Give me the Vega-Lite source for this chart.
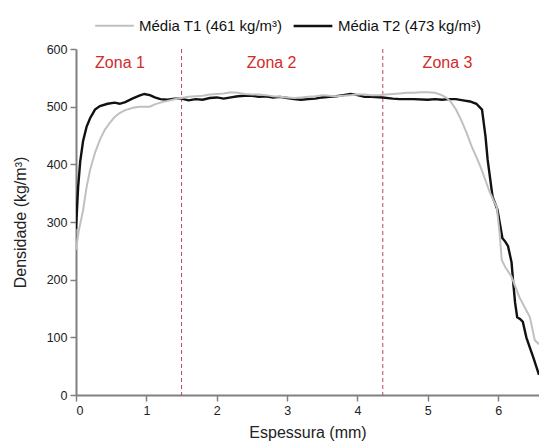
{
  "$schema": "https://vega.github.io/schema/vega-lite/v6.json",
  "autosize": {"type": "none"},
  "width": 463,
  "height": 346,
  "padding": {"left": 76, "top": 49, "right": 0, "bottom": 51},
  "background": "white",
  "config": {
    "view": {"stroke": null},
    "font": "Liberation Sans",
    "axis": {
      "grid": false,
      "domainColor": "#808080",
      "domainWidth": 2,
      "tickColor": "#808080",
      "tickWidth": 1.5,
      "tickSize": 6,
      "labelColor": "#222222",
      "labelFontSize": 12.5,
      "labelFont": "Liberation Sans",
      "titleFont": "Liberation Sans",
      "titleFontSize": 16,
      "titleFontWeight": "normal",
      "titleColor": "#222222"
    }
  },
  "datasets": {
    "curves": [
      {"s": "Média T2 (473 kg/m³)", "x": 0, "y": 288},
      {"s": "Média T2 (473 kg/m³)", "x": 0.03, "y": 360},
      {"s": "Média T2 (473 kg/m³)", "x": 0.06, "y": 405},
      {"s": "Média T2 (473 kg/m³)", "x": 0.1, "y": 440},
      {"s": "Média T2 (473 kg/m³)", "x": 0.15, "y": 465},
      {"s": "Média T2 (473 kg/m³)", "x": 0.2, "y": 480},
      {"s": "Média T2 (473 kg/m³)", "x": 0.27, "y": 495},
      {"s": "Média T2 (473 kg/m³)", "x": 0.34, "y": 501},
      {"s": "Média T2 (473 kg/m³)", "x": 0.45, "y": 505},
      {"s": "Média T2 (473 kg/m³)", "x": 0.55, "y": 507},
      {"s": "Média T2 (473 kg/m³)", "x": 0.62, "y": 505},
      {"s": "Média T2 (473 kg/m³)", "x": 0.7, "y": 508},
      {"s": "Média T2 (473 kg/m³)", "x": 0.8, "y": 514},
      {"s": "Média T2 (473 kg/m³)", "x": 0.9, "y": 519},
      {"s": "Média T2 (473 kg/m³)", "x": 0.97, "y": 522},
      {"s": "Média T2 (473 kg/m³)", "x": 1.05, "y": 520},
      {"s": "Média T2 (473 kg/m³)", "x": 1.12, "y": 516},
      {"s": "Média T2 (473 kg/m³)", "x": 1.2, "y": 513},
      {"s": "Média T2 (473 kg/m³)", "x": 1.3, "y": 512},
      {"s": "Média T2 (473 kg/m³)", "x": 1.4, "y": 514},
      {"s": "Média T2 (473 kg/m³)", "x": 1.5, "y": 514},
      {"s": "Média T2 (473 kg/m³)", "x": 1.6, "y": 511},
      {"s": "Média T2 (473 kg/m³)", "x": 1.7, "y": 513},
      {"s": "Média T2 (473 kg/m³)", "x": 1.8, "y": 512},
      {"s": "Média T2 (473 kg/m³)", "x": 1.9, "y": 515},
      {"s": "Média T2 (473 kg/m³)", "x": 2.0, "y": 516},
      {"s": "Média T2 (473 kg/m³)", "x": 2.1, "y": 514},
      {"s": "Média T2 (473 kg/m³)", "x": 2.2, "y": 516},
      {"s": "Média T2 (473 kg/m³)", "x": 2.3, "y": 518},
      {"s": "Média T2 (473 kg/m³)", "x": 2.4, "y": 519},
      {"s": "Média T2 (473 kg/m³)", "x": 2.5, "y": 519},
      {"s": "Média T2 (473 kg/m³)", "x": 2.6, "y": 517},
      {"s": "Média T2 (473 kg/m³)", "x": 2.7, "y": 518},
      {"s": "Média T2 (473 kg/m³)", "x": 2.8, "y": 516},
      {"s": "Média T2 (473 kg/m³)", "x": 2.9, "y": 517},
      {"s": "Média T2 (473 kg/m³)", "x": 3.0, "y": 515},
      {"s": "Média T2 (473 kg/m³)", "x": 3.1, "y": 513},
      {"s": "Média T2 (473 kg/m³)", "x": 3.2, "y": 512},
      {"s": "Média T2 (473 kg/m³)", "x": 3.3, "y": 513},
      {"s": "Média T2 (473 kg/m³)", "x": 3.4, "y": 514},
      {"s": "Média T2 (473 kg/m³)", "x": 3.5, "y": 516},
      {"s": "Média T2 (473 kg/m³)", "x": 3.6, "y": 517},
      {"s": "Média T2 (473 kg/m³)", "x": 3.7, "y": 518},
      {"s": "Média T2 (473 kg/m³)", "x": 3.8, "y": 520},
      {"s": "Média T2 (473 kg/m³)", "x": 3.9, "y": 522},
      {"s": "Média T2 (473 kg/m³)", "x": 4.0, "y": 520},
      {"s": "Média T2 (473 kg/m³)", "x": 4.1, "y": 517},
      {"s": "Média T2 (473 kg/m³)", "x": 4.2, "y": 517},
      {"s": "Média T2 (473 kg/m³)", "x": 4.36, "y": 516},
      {"s": "Média T2 (473 kg/m³)", "x": 4.5, "y": 514},
      {"s": "Média T2 (473 kg/m³)", "x": 4.6, "y": 513},
      {"s": "Média T2 (473 kg/m³)", "x": 4.8, "y": 513},
      {"s": "Média T2 (473 kg/m³)", "x": 5.0, "y": 512},
      {"s": "Média T2 (473 kg/m³)", "x": 5.1, "y": 513},
      {"s": "Média T2 (473 kg/m³)", "x": 5.2, "y": 512},
      {"s": "Média T2 (473 kg/m³)", "x": 5.3, "y": 513},
      {"s": "Média T2 (473 kg/m³)", "x": 5.4, "y": 513},
      {"s": "Média T2 (473 kg/m³)", "x": 5.5, "y": 511},
      {"s": "Média T2 (473 kg/m³)", "x": 5.6, "y": 509},
      {"s": "Média T2 (473 kg/m³)", "x": 5.69, "y": 505},
      {"s": "Média T2 (473 kg/m³)", "x": 5.77, "y": 495},
      {"s": "Média T2 (473 kg/m³)", "x": 5.82, "y": 448},
      {"s": "Média T2 (473 kg/m³)", "x": 5.85, "y": 408},
      {"s": "Média T2 (473 kg/m³)", "x": 5.92, "y": 344},
      {"s": "Média T2 (473 kg/m³)", "x": 5.99, "y": 321},
      {"s": "Média T2 (473 kg/m³)", "x": 6.06, "y": 272},
      {"s": "Média T2 (473 kg/m³)", "x": 6.1, "y": 266},
      {"s": "Média T2 (473 kg/m³)", "x": 6.14, "y": 258},
      {"s": "Média T2 (473 kg/m³)", "x": 6.19, "y": 230},
      {"s": "Média T2 (473 kg/m³)", "x": 6.21, "y": 200},
      {"s": "Média T2 (473 kg/m³)", "x": 6.24, "y": 160},
      {"s": "Média T2 (473 kg/m³)", "x": 6.27, "y": 135},
      {"s": "Média T2 (473 kg/m³)", "x": 6.31, "y": 132},
      {"s": "Média T2 (473 kg/m³)", "x": 6.35, "y": 127},
      {"s": "Média T2 (473 kg/m³)", "x": 6.4, "y": 100},
      {"s": "Média T2 (473 kg/m³)", "x": 6.45, "y": 82},
      {"s": "Média T2 (473 kg/m³)", "x": 6.5, "y": 65},
      {"s": "Média T2 (473 kg/m³)", "x": 6.58, "y": 35},
      {"s": "Média T1 (461 kg/m³)", "x": 0, "y": 252},
      {"s": "Média T1 (461 kg/m³)", "x": 0.04, "y": 285},
      {"s": "Média T1 (461 kg/m³)", "x": 0.1, "y": 320},
      {"s": "Média T1 (461 kg/m³)", "x": 0.15, "y": 360},
      {"s": "Média T1 (461 kg/m³)", "x": 0.2, "y": 390},
      {"s": "Média T1 (461 kg/m³)", "x": 0.27, "y": 420},
      {"s": "Média T1 (461 kg/m³)", "x": 0.34, "y": 443},
      {"s": "Média T1 (461 kg/m³)", "x": 0.41, "y": 460},
      {"s": "Média T1 (461 kg/m³)", "x": 0.48, "y": 472},
      {"s": "Média T1 (461 kg/m³)", "x": 0.55, "y": 482},
      {"s": "Média T1 (461 kg/m³)", "x": 0.62, "y": 489},
      {"s": "Média T1 (461 kg/m³)", "x": 0.7, "y": 494},
      {"s": "Média T1 (461 kg/m³)", "x": 0.81, "y": 498},
      {"s": "Média T1 (461 kg/m³)", "x": 0.9, "y": 500},
      {"s": "Média T1 (461 kg/m³)", "x": 1.0, "y": 500},
      {"s": "Média T1 (461 kg/m³)", "x": 1.05, "y": 500},
      {"s": "Média T1 (461 kg/m³)", "x": 1.12, "y": 504},
      {"s": "Média T1 (461 kg/m³)", "x": 1.2, "y": 507},
      {"s": "Média T1 (461 kg/m³)", "x": 1.3, "y": 510},
      {"s": "Média T1 (461 kg/m³)", "x": 1.4, "y": 513},
      {"s": "Média T1 (461 kg/m³)", "x": 1.5, "y": 515},
      {"s": "Média T1 (461 kg/m³)", "x": 1.6, "y": 517},
      {"s": "Média T1 (461 kg/m³)", "x": 1.7, "y": 518},
      {"s": "Média T1 (461 kg/m³)", "x": 1.8, "y": 519},
      {"s": "Média T1 (461 kg/m³)", "x": 1.9, "y": 521},
      {"s": "Média T1 (461 kg/m³)", "x": 2.0, "y": 522},
      {"s": "Média T1 (461 kg/m³)", "x": 2.1, "y": 523},
      {"s": "Média T1 (461 kg/m³)", "x": 2.2, "y": 525},
      {"s": "Média T1 (461 kg/m³)", "x": 2.3, "y": 524},
      {"s": "Média T1 (461 kg/m³)", "x": 2.4, "y": 522},
      {"s": "Média T1 (461 kg/m³)", "x": 2.5, "y": 521},
      {"s": "Média T1 (461 kg/m³)", "x": 2.6, "y": 521},
      {"s": "Média T1 (461 kg/m³)", "x": 2.7, "y": 520},
      {"s": "Média T1 (461 kg/m³)", "x": 2.8, "y": 518},
      {"s": "Média T1 (461 kg/m³)", "x": 2.9, "y": 517},
      {"s": "Média T1 (461 kg/m³)", "x": 3.0, "y": 516},
      {"s": "Média T1 (461 kg/m³)", "x": 3.1, "y": 515},
      {"s": "Média T1 (461 kg/m³)", "x": 3.2, "y": 516},
      {"s": "Média T1 (461 kg/m³)", "x": 3.3, "y": 517},
      {"s": "Média T1 (461 kg/m³)", "x": 3.4, "y": 518},
      {"s": "Média T1 (461 kg/m³)", "x": 3.5, "y": 520},
      {"s": "Média T1 (461 kg/m³)", "x": 3.6, "y": 519},
      {"s": "Média T1 (461 kg/m³)", "x": 3.7, "y": 518},
      {"s": "Média T1 (461 kg/m³)", "x": 3.8, "y": 519},
      {"s": "Média T1 (461 kg/m³)", "x": 3.9, "y": 520},
      {"s": "Média T1 (461 kg/m³)", "x": 4.0, "y": 521},
      {"s": "Média T1 (461 kg/m³)", "x": 4.1, "y": 521},
      {"s": "Média T1 (461 kg/m³)", "x": 4.2, "y": 520},
      {"s": "Média T1 (461 kg/m³)", "x": 4.3, "y": 520},
      {"s": "Média T1 (461 kg/m³)", "x": 4.4, "y": 521},
      {"s": "Média T1 (461 kg/m³)", "x": 4.5, "y": 522},
      {"s": "Média T1 (461 kg/m³)", "x": 4.6, "y": 523},
      {"s": "Média T1 (461 kg/m³)", "x": 4.7, "y": 524},
      {"s": "Média T1 (461 kg/m³)", "x": 4.8, "y": 524},
      {"s": "Média T1 (461 kg/m³)", "x": 4.9, "y": 525},
      {"s": "Média T1 (461 kg/m³)", "x": 5.0, "y": 525},
      {"s": "Média T1 (461 kg/m³)", "x": 5.1, "y": 524},
      {"s": "Média T1 (461 kg/m³)", "x": 5.2, "y": 520},
      {"s": "Média T1 (461 kg/m³)", "x": 5.27, "y": 515},
      {"s": "Média T1 (461 kg/m³)", "x": 5.33, "y": 508},
      {"s": "Média T1 (461 kg/m³)", "x": 5.4, "y": 495},
      {"s": "Média T1 (461 kg/m³)", "x": 5.47, "y": 478},
      {"s": "Média T1 (461 kg/m³)", "x": 5.55, "y": 455},
      {"s": "Média T1 (461 kg/m³)", "x": 5.62, "y": 432},
      {"s": "Média T1 (461 kg/m³)", "x": 5.7, "y": 410},
      {"s": "Média T1 (461 kg/m³)", "x": 5.76, "y": 392},
      {"s": "Média T1 (461 kg/m³)", "x": 5.82, "y": 372},
      {"s": "Média T1 (461 kg/m³)", "x": 5.88, "y": 352},
      {"s": "Média T1 (461 kg/m³)", "x": 5.94, "y": 336},
      {"s": "Média T1 (461 kg/m³)", "x": 5.98, "y": 326},
      {"s": "Média T1 (461 kg/m³)", "x": 6.02, "y": 281},
      {"s": "Média T1 (461 kg/m³)", "x": 6.05, "y": 234},
      {"s": "Média T1 (461 kg/m³)", "x": 6.1, "y": 222},
      {"s": "Média T1 (461 kg/m³)", "x": 6.19, "y": 205},
      {"s": "Média T1 (461 kg/m³)", "x": 6.3, "y": 170},
      {"s": "Média T1 (461 kg/m³)", "x": 6.45, "y": 135},
      {"s": "Média T1 (461 kg/m³)", "x": 6.52, "y": 95},
      {"s": "Média T1 (461 kg/m³)", "x": 6.58, "y": 88}
    ],
    "zones": [
      {"label": "Zona 1", "x": 0.625, "y": 576},
      {"label": "Zona 2", "x": 2.78, "y": 576},
      {"label": "Zona 3", "x": 5.28, "y": 576}
    ],
    "bounds": [
      {"x": 1.5},
      {"x": 4.36}
    ]
  },
  "layer": [
    {
      "data": {"name": "bounds"},
      "mark": {"type": "rule", "color": "#c04858", "strokeDash": [4, 3], "strokeWidth": 1},
      "encoding": {
        "x": {"field": "x", "type": "quantitative", "scale": {"domain": [0, 6.58], "nice": false}}
      }
    },
    {
      "data": {"name": "curves"},
      "mark": {"type": "line", "clip": true, "interpolate": "linear"},
      "encoding": {
        "x": {
          "field": "x", "type": "quantitative",
          "scale": {"domain": [0, 6.58], "nice": false},
          "axis": {"values": [0, 1, 2, 3, 4, 5, 6], "format": "d", "title": "Espessura (mm)", "titlePadding": 8, "labelPadding": 3}
        },
        "y": {
          "field": "y", "type": "quantitative",
          "scale": {"domain": [0, 600], "nice": false},
          "axis": {"values": [0, 100, 200, 300, 400, 500, 600], "title": "Densidade (kg/m³)", "titlePadding": 18, "labelPadding": 3}
        },
        "color": {
          "field": "s", "type": "nominal",
          "scale": {"domain": ["Média T1 (461 kg/m³)", "Média T2 (473 kg/m³)"], "range": ["#c0c0c0", "#111111"]},
          "legend": {
            "title": null,
            "orient": "none",
            "legendX": 18,
            "legendY": -44,
            "direction": "horizontal",
            "symbolType": "stroke",
            "symbolSize": 1500,
            "labelFontSize": 15,
            "labelFont": "Liberation Sans",
            "labelColor": "#111111",
            "labelOffset": 4,
            "columnPadding": 5
          }
        },
        "strokeWidth": {
          "field": "s", "type": "nominal",
          "scale": {"domain": ["Média T1 (461 kg/m³)", "Média T2 (473 kg/m³)"], "range": [2, 2.4]},
          "legend": {
            "title": null,
            "orient": "none",
            "legendX": 18,
            "legendY": -44,
            "direction": "horizontal",
            "symbolType": "stroke",
            "symbolSize": 1500,
            "labelFontSize": 15,
            "labelFont": "Liberation Sans",
            "labelColor": "#111111",
            "labelOffset": 4,
            "columnPadding": 5
          }
        },
        "order": {"field": "x", "type": "quantitative"}
      }
    },
    {
      "data": {"name": "zones"},
      "mark": {"type": "text", "color": "#d42a2a", "fontSize": 16, "font": "Liberation Sans", "align": "center", "baseline": "middle"},
      "encoding": {
        "x": {"field": "x", "type": "quantitative"},
        "y": {"field": "y", "type": "quantitative"},
        "text": {"field": "label"}
      }
    }
  ]
}
